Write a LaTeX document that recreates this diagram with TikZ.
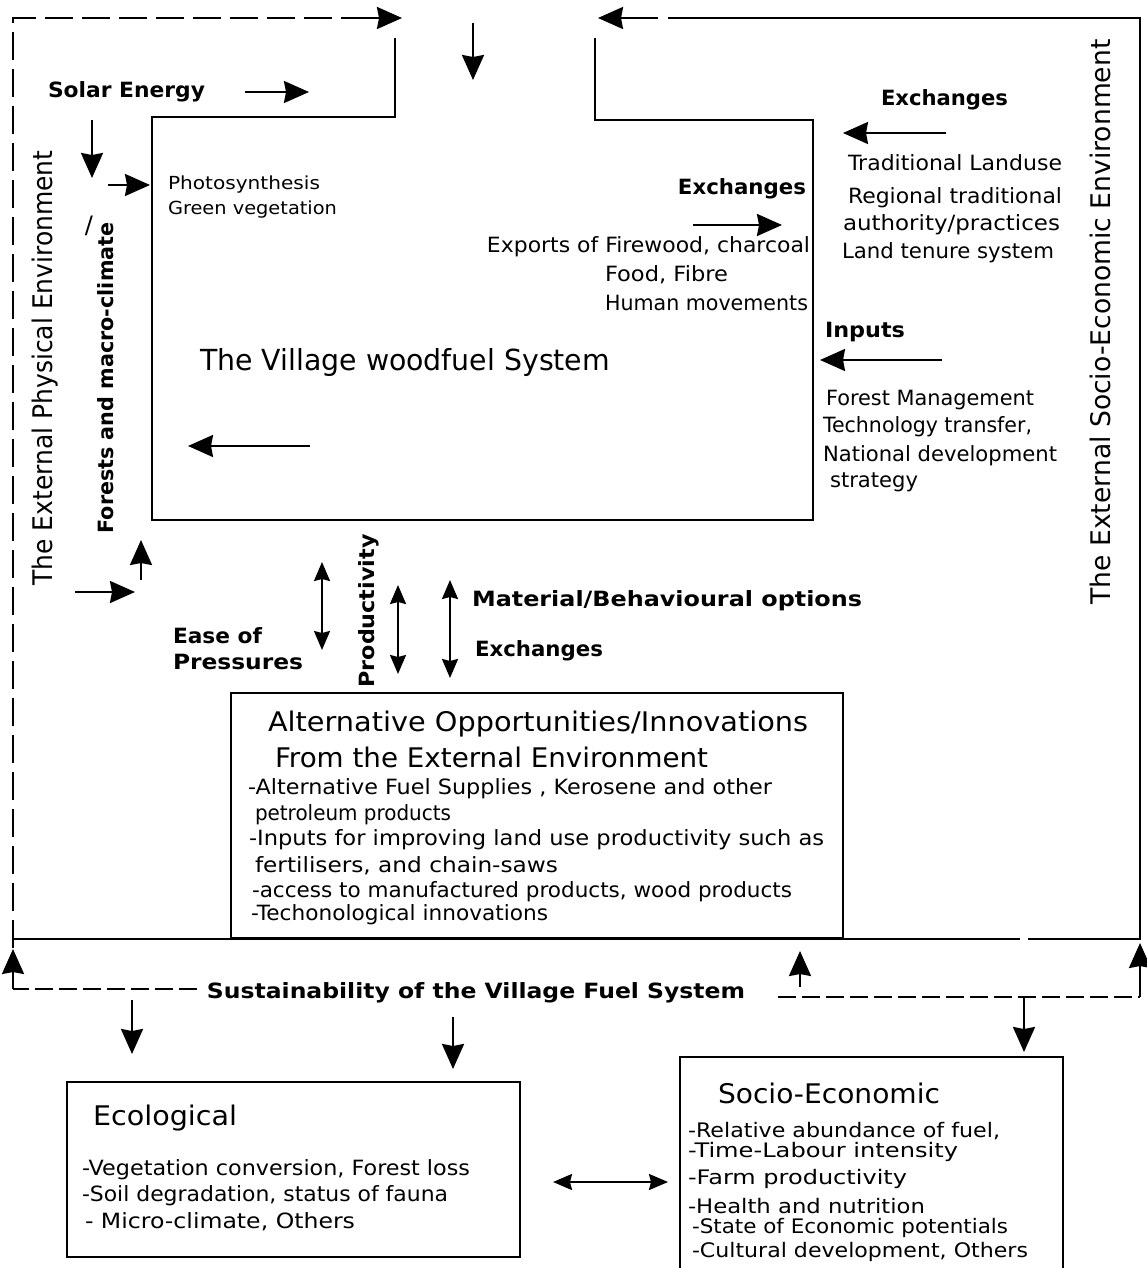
\documentclass[tikz,border=0pt]{standalone}
\usepackage{fontspec}
\usepackage{graphicx}
\setmainfont{DejaVu Sans}
\usetikzlibrary{arrows.meta}
% set a text to a given width, keeping its natural height
\newcommand\fw[2]{\resizebox{#1pt}{\height}{#2}}

\tikzset{
  every node/.style={inner sep=0pt, outer sep=0pt},
  frame/.style={line width=2.4pt},
  dashframe/.style={line width=2.4pt, dash pattern=on 28pt off 9pt},
  thindash/.style={line width=1.8pt, dash pattern=on 18pt off 6pt},
  arr/.style={line width=2.4pt, -{Stealth[length=25pt,width=22pt,inset=2pt]}},
  dbl/.style={line width=2.2pt, {Stealth[length=19pt,width=16pt,inset=2pt]}-{Stealth[length=19pt,width=16pt,inset=2pt]}},
  txt/.style={anchor=west, font=\fontsize{21}{24}\selectfont},
  small/.style={anchor=west, font=\fontsize{18}{21}\selectfont},
  lbl/.style={anchor=west, font=\fontsize{21}{24}\selectfont\bfseries},
  big/.style={anchor=west, font=\fontsize{29}{33}\selectfont},
  mid/.style={anchor=west, font=\fontsize{27}{31}\selectfont},
  vert/.style={rotate=90, font=\fontsize{27}{31}\selectfont},
  soctxt/.style={anchor=west, font=\fontsize{20}{23}\selectfont},
  box/.style={line width=2.2pt},
}

\begin{document}
\begin{tikzpicture}[x=1pt,y=-1pt]
\useasboundingbox (0,0) rectangle (1147,1268);
\fill[white] (0,0) rectangle (1147,1268);

% ---------- outer frame ----------
\coordinate (fbl) at (13,948);
\coordinate (ftl) at (13,18);
\coordinate (fta) at (350,18);
\coordinate (ftb) at (402,18);
\draw[dashframe] (fbl) -- (ftl) -- (fta);
\draw[arr] (fta) -- (ftb);

\coordinate (fra) at (658,18);
\coordinate (frb) at (598,18);
\coordinate (frc) at (668,18);
\coordinate (ftr) at (1140,18);
\coordinate (fbr) at (1140,940);
\draw[arr] (fra) -- (frb);
\draw[frame] (frc) -- (ftr) -- (fbr);

\coordinate (bl) at (13,939);
\coordinate (bm1) at (1020,939);
\coordinate (bm2) at (1028,939);
\coordinate (br) at (1140,939);
\draw[frame] (bl) -- (bm1) (bm2) -- (br);

% ---------- village woodfuel system ----------
\coordinate (v1) at (395,38);
\coordinate (v2) at (395,117);
\coordinate (v3) at (152,117);
\coordinate (v4) at (152,520);
\coordinate (v5) at (813,520);
\coordinate (v6) at (813,120);
\coordinate (v7) at (595,120);
\coordinate (v8) at (595,38);
\draw[frame] (v1) -- (v2) -- (v3) -- (v4) -- (v5) -- (v6) -- (v7) -- (v8);

\coordinate (ia) at (473,23);
\coordinate (ib) at (473,80);
\draw[arr] (ia) -- (ib);

\node[big] (village) at (200,362) {\fw{410}{The Village woodfuel System}};
\coordinate (la) at (310,446);
\coordinate (lb) at (188,446);
\draw[arr] (la) -- (lb);

\node[small] (photo) at (168,185) {\fw{152}{Photosynthesis}};
\node[small] (green) at (168,210) {\fw{169}{Green vegetation}};

\node[lbl,anchor=east] (exin) at (806,189) {\fw{128}{Exchanges}};
\coordinate (ea) at (693,225);
\coordinate (eb) at (782,225);
\draw[arr] (ea) -- (eb);
\node[txt,anchor=east] (exp) at (810,247) {\fw{323}{Exports of Firewood, charcoal}};
\node[txt] (food) at (605,275) {\fw{123}{Food, Fibre}};
\node[txt] (human) at (605,303) {\fw{203}{Human movements}};

% ---------- physical side ----------
\node[lbl] (solar) at (48,92) {\fw{157}{Solar Energy}};
\draw[arr] ([xshift=40pt]solar.east) -- ++(64,0);
\coordinate (sa) at (92,120);
\coordinate (sb) at (92,178);
\draw[arr] (sa) -- (sb);
\draw[arr] ([xshift=-60pt]photo.west) -- ([xshift=-18pt]photo.west);

\node[vert] (phys) at (45,368) {\fw{435}{The External Physical Environment}};
\node[rotate=90, font=\fontsize{21}{24}\selectfont\bfseries] (forest) at (106,378) {\fw{311}{Forests and macro-climate}};
\node[font=\fontsize{24}{28}\selectfont] (slash) at (89,226) {/};

\coordinate (ua) at (141,580);
\coordinate (ub) at (141,540);
\draw[arr] (ua) -- (ub);
\coordinate (ra) at (75,592);
\coordinate (rb) at (135,592);
\draw[arr] (ra) -- (rb);

% ---------- socio-economic side ----------
\node[lbl] (exout) at (881,100) {\fw{127}{Exchanges}};
\coordinate (xa) at (946,133);
\coordinate (xb) at (843,133);
\draw[arr] (xa) -- (xb);
\node[txt] (trad) at (848,163) {\fw{214}{Traditional Landuse}};
\node[txt] (reg) at (848,198) {\fw{214}{Regional traditional}};
\node[txt] (auth) at (843,225) {\fw{217}{authority/practices}};
\node[txt] (land) at (842,253) {\fw{212}{Land tenure system}};

\node[lbl] (inputs) at (825,332) {\fw{80}{Inputs}};
\coordinate (pa) at (942,360);
\coordinate (pb) at (820,360);
\draw[arr] (pa) -- (pb);
\node[txt] (fm) at (826,400) {\fw{208}{Forest Management}};
\node[txt] (tt) at (823,427) {\fw{209}{Technology transfer,}};
\node[txt] (nd) at (823,456) {\fw{234}{National development}};
\node[txt] (st) at (830,482) {\fw{88}{strategy}};

\node[vert] (socenv) at (1100,322) {\fw{565}{The External Socio-Economic Environment}};

% ---------- links between the system and the alternatives ----------
\coordinate (d1a) at (322,562);
\coordinate (d1b) at (322,650);
\draw[dbl] (d1a) -- (d1b);
\node[lbl] (ease) at (173,636) {\fw{89}{Ease of}};
\node[lbl] (press) at (173,662) {\fw{130}{Pressures}};
\node[rotate=90, font=\fontsize{21}{24}\selectfont\bfseries] (prod) at (369,611) {\fw{153}{Productivity}};
\coordinate (d2a) at (398,585);
\coordinate (d2b) at (398,674);
\draw[dbl] (d2a) -- (d2b);
\coordinate (d3a) at (450,580);
\coordinate (d3b) at (450,678);
\draw[dbl] (d3a) -- (d3b);
\node[lbl] (mat) at (472,601) {\fw{390}{Material/Behavioural options}};
\node[lbl] (exmid) at (475,651) {\fw{128}{Exchanges}};

% ---------- alternative opportunities ----------
\draw[box] (231,693) rectangle (843,938);
\node[mid] (alt1) at (268,724) {\fw{540}{Alternative Opportunities/Innovations}};
\node[mid] (alt2) at (275,757) {\fw{433}{From the External Environment}};
\node[txt] (a1) at (248,789) {\fw{524}{-Alternative Fuel Supplies , Kerosene and other}};
\node[txt] (a2) at (255,815) {\fw{196}{petroleum products}};
\node[txt] (a3) at (249,840) {\fw{575}{-Inputs for improving land use productivity such as}};
\node[txt] (a4) at (255,866) {\fw{303}{fertilisers, and chain-saws}};
\node[txt] (a5) at (252,892) {\fw{540}{-access to manufactured products, wood products}};
\node[txt] (a6) at (251,915) {\fw{297}{-Techonological innovations}};

% ---------- sustainability ----------
\node[lbl, anchor=center] (sust) at (476,993) {\fw{538}{Sustainability of the Village Fuel System}};
\coordinate (sl1) at (13,989);
\coordinate (sl2) at (197,989);
\draw[thindash] (sl2) -- (sl1);
\coordinate (sl0) at (13,949);
\draw[arr] (sl1) -- (sl0);
\coordinate (sr1) at (778,997);
\coordinate (sr2) at (1140,997);
\coordinate (sr3) at (1140,943);
\draw[thindash] (sr1) -- (sr2);
\draw[arr] (sr2) -- (sr3);
\coordinate (ma) at (800,987);
\coordinate (mb) at (800,951);
\draw[arr] (ma) -- (mb);

\coordinate (e1a) at (132,1000);
\coordinate (e1b) at (132,1054);
\draw[arr] (e1a) -- (e1b);
\coordinate (e2a) at (453,1017);
\coordinate (e2b) at (453,1069);
\draw[arr] (e2a) -- (e2b);
\coordinate (e3a) at (1024,997);
\coordinate (e3b) at (1024,1052);
\draw[arr] (e3a) -- (e3b);

% ---------- ecological ----------
\draw[box] (67,1082) rectangle (520,1257);
\node[mid] (eco) at (93,1118) {\fw{144}{Ecological}};
\node[txt] (c1) at (82,1170) {\fw{388}{-Vegetation conversion, Forest loss}};
\node[txt] (c2) at (82,1196) {\fw{366}{-Soil degradation, status of fauna}};
\node[txt] (c3) at (85,1222) {\fw{270}{- Micro-climate, Others}};

% ---------- socio-economic ----------
\draw[box] (680,1057) rectangle (1063,1275);
\node[mid] (soc) at (718,1093) {\fw{222}{Socio-Economic}};
\node[soctxt] (s1) at (688,1131) {\fw{312}{-Relative abundance of fuel,}};
\node[soctxt] (s2) at (688,1152) {\fw{270}{-Time-Labour intensity}};
\node[soctxt] (s3) at (688,1179) {\fw{219}{-Farm productivity}};
\node[soctxt] (s4) at (688,1206) {\fw{237}{-Health and nutrition}};
\node[soctxt] (s5) at (692,1228) {\fw{316}{-State of Economic potentials}};
\node[soctxt] (s6) at (692,1252) {\fw{336}{-Cultural development, Others}};

\coordinate (ha) at (553,1182);
\coordinate (hb) at (668,1182);
\draw[dbl] (ha) -- (hb);
\end{tikzpicture}
\end{document}
